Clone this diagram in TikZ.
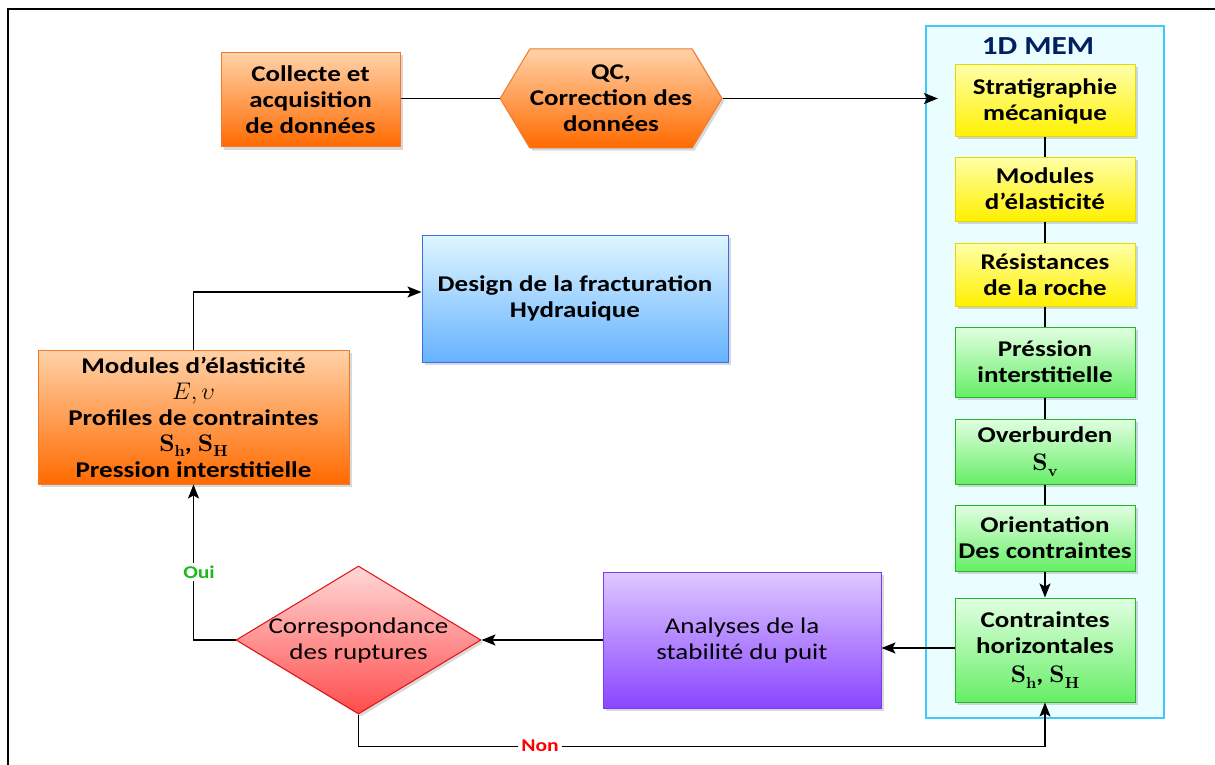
\documentclass[tikz,border=0pt]{standalone}
\usepackage{fix-cm}
\usepackage[no-math]{fontspec}
\setmainfont{Carlito}[FakeStretch=1.2]
\newfontfamily\lmrb{lmroman10-bold.otf}
\usetikzlibrary{shapes.geometric,shapes.symbols,shadows,arrows.meta,calc}
\definecolor{orT}{HTML}{FFD2A8}
\definecolor{orB}{HTML}{FF6A00}
\definecolor{orD}{HTML}{F07A2A}
\definecolor{yeT}{HTML}{FFFFA8}
\definecolor{yeB}{HTML}{FFF000}
\definecolor{yeD}{HTML}{E6D800}
\definecolor{grT}{HTML}{E2FFE2}
\definecolor{grB}{HTML}{66EE66}
\definecolor{grD}{HTML}{22B822}
\definecolor{puT}{HTML}{DDC8FF}
\definecolor{puB}{HTML}{8A45FF}
\definecolor{puD}{HTML}{7A3CF0}
\definecolor{reT}{HTML}{FFD8D8}
\definecolor{reB}{HTML}{FF4C4C}
\definecolor{reD}{HTML}{E01010}
\definecolor{blT}{HTML}{DFF6FF}
\definecolor{blB}{HTML}{66B2FF}
\definecolor{blD}{HTML}{3A6BE8}
\definecolor{panF}{HTML}{EAFDFF}
\definecolor{panD}{HTML}{40C8FF}
\definecolor{navy}{HTML}{002060}
\definecolor{ouiG}{HTML}{1DB81D}
\newcommand{\myfs}{\fontsize{22.5}{26}\selectfont}
\newcommand{\bS}[1]{{\lmrb\fontsize{24}{26}\selectfont S\raisebox{-0.22em}{\fontsize{16}{16}\selectfont #1}}}
\begin{document}
\begin{tikzpicture}[x=1pt,y=1pt,
  shad/.style={drop shadow={shadow xshift=2.5pt,shadow yshift=-2.5pt,opacity=0.3}},
  box/.style={rectangle,draw,line width=1pt,inner sep=0pt,align=center,font=\myfs\bfseries,shad},
  orangebox/.style={box,draw=orD,top color=orT,bottom color=orB},
  yellowbox/.style={box,draw=yeD,top color=yeT,bottom color=yeB,minimum width=180},
  greenbox/.style={box,draw=grD,top color=grT,bottom color=grB,minimum width=180},
  conn/.style={draw,line width=1.5pt},
  arr/.style={conn,-{Stealth[length=14pt,width=11pt,inset=3pt]}},
  lbl/.style={font=\fontsize{18}{20}\selectfont\bfseries,fill=white,inner sep=3pt}
]
\useasboundingbox (0,0) rectangle (1215,-765);
% outer frame
\draw[line width=2.5pt] (8,-765) -- (8,-9) -- (1215,-9);

% 1D MEM panel
\node[rectangle,draw=panD,fill=panF,line width=1.5pt,minimum width=238,minimum height=692,inner sep=0] (mem) at (1045,-372) {};
\node[font=\fontsize{26}{28}\selectfont\bfseries,text=navy] (memt) at (1038,-46) {1D MEM};

% top row
\node[orangebox,minimum width=179,minimum height=94] (coll) at (310.5,-100) {Collecte et\\acquisition\\de données};
\node[signal,signal to=west and east,signal pointer angle=118,minimum width=190,minimum height=99,inner sep=0pt,
      draw=orD,line width=1pt,top color=orT,bottom color=orB,align=center,font=\myfs\bfseries,shad] (qc) at (611,-98.5) {QC,\\Correction des\\données};
\coordinate (memin) at (938,-98.5);

% MEM boxes
\node[yellowbox,minimum height=72] (strat) at (1045,-101) {Stratigraphie\\mécanique};
\node[yellowbox,minimum height=64] (mod) at (1045,-189) {Modules\\d’élasticité};
\node[yellowbox,minimum height=63] (res) at (1045,-274.5) {Résistances\\de la roche};
\node[greenbox,minimum height=70] (pres) at (1045,-362) {Préssion\\interstitielle};
\node[greenbox,minimum height=65] (over) at (1045,-451.5) {Overburden\\[2pt]\bS{v}};
\node[greenbox,minimum height=66] (orient) at (1045,-538) {Orientation\\Des contraintes};
\node[greenbox,minimum height=104] (ch) at (1045,-650) {Contraintes\\horizontales\\[3pt]\bS{h}, \bS{H}};

% bottom / left part
\node[box,draw=puD,top color=puT,bottom color=puB,minimum width=278,minimum height=136,font=\myfs] (ana) at (742,-640) {Analyses de la\\stabilité du puit};
\node[diamond,draw=reD,line width=1pt,top color=reT,bottom color=reB,minimum width=245,minimum height=148,aspect=1.66,inner sep=0pt,shad] (dia) at (358.5,-640) {};
\node[align=center,font=\myfs] (diat) at (dia.center) {Correspondance\\des ruptures};
\node[orangebox,minimum width=311,minimum height=134] (res2) at (193.5,-417) {Modules d’élasticité\\{\fontsize{24}{26}\selectfont$E,\upsilon$}\\Profiles de contraintes\\\bS{h}, \bS{H}\\Pression interstitielle};
\node[box,draw=blD,top color=blT,bottom color=blB,minimum width=306,minimum height=127] (des) at (575,-298.5) {Design de la fracturation\\Hydrauique};

% connectors
\draw[conn] (coll.east |- qc.west) -- (qc.west);
\draw[arr] (qc.east) -- (memin);
\draw[conn] (strat) -- (mod);
\draw[conn] (mod) -- (res);
\draw[conn] (res) -- (pres);
\draw[conn] (pres) -- (over);
\draw[conn] (over) -- (orient);
\draw[arr] (orient) -- (ch);
\draw[arr] ([yshift=2pt]ch.west) -- ([yshift=2pt]ch.west -| ana.east);
\draw[arr] (ana.west |- dia.east) -- (dia.east);
\draw[arr] (dia.south) -- ++(0,-32) coordinate (nonc) -| (ch.south);
\node[lbl,text=red] (non) at (540,-746) {Non};
\draw[arr] (dia.west) -| (res2.south);
\node[lbl,text=ouiG] (oui) at (199,-572) {Oui};
\draw[arr] (res2.north) |- ([yshift=6.5pt]des.west);
\end{tikzpicture}
\end{document}
